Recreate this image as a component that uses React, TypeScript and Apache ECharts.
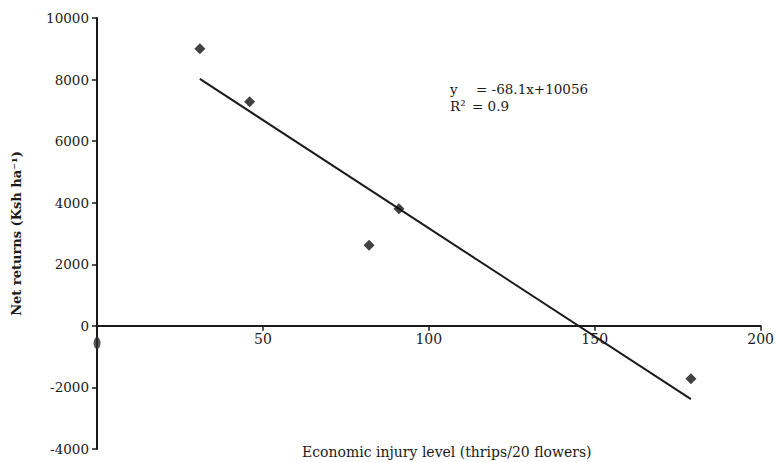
import React, { useEffect, useRef } from "react";
import * as echarts from "echarts";

const observedPoints: [number, number][] = [
  [31, 9000],
  [46, 7280],
  [82, 2620],
  [91, 3800],
  [179, -1720],
];
const axisPoint: [number, number][] = [[0, -560]];
const trendLine: [number, number][] = [
  [31, 8020],
  [179, -2380],
];
const yTicks = { min: -4000, max: 10000, interval: 2000 };
const xTicks = { min: 0, max: 200, interval: 50 };
const eqLhs = "y";
const eqRhs = "= -68.1x+10056";
const r2Lhs = "R\u00B2";
const r2Rhs = "= 0.9";
const xTitle = "Economic injury level (thrips/20 flowers)";
const yTitle = "Net returns (Ksh ha\u207B\u00B9)";

const INK = "#1a1a1a";
const FONT = "'DejaVu Serif', 'Liberation Serif', serif";

const W = 777;
const H = 462;
const GRID = { left: 97, right: 12, top: 18, bottom: 13 };

export default function App() {
  const ref = useRef<HTMLDivElement>(null);
  useEffect(() => {
    if (!ref.current) return;
    const chart = echarts.init(ref.current, undefined, { renderer: "svg" });
    const plotH = H - GRID.top - GRID.bottom;
    const zeroFromBottom = (plotH * (0 - yTicks.min)) / (yTicks.max - yTicks.min);
    const eqStyle = (text: string) => ({
      text,
      fill: INK,
      font: `13.5px ${FONT}`,
    });
    chart.setOption({
      animation: false,
      backgroundColor: "#ffffff",
      grid: { ...GRID, containLabel: false },
      xAxis: {
        type: "value",
        position: "bottom",
        offset: -zeroFromBottom,
        min: xTicks.min,
        max: xTicks.max,
        interval: xTicks.interval,
        axisLine: { onZero: false, lineStyle: { color: INK, width: 2 } },
        axisTick: { show: true, inside: false, length: 5, lineStyle: { color: INK, width: 1.5 } },
        axisLabel: {
          color: INK,
          fontFamily: FONT,
          fontSize: 14,
          margin: 6,
          formatter: (v: number) => (v === 0 ? "" : String(v)),
        },
        splitLine: { show: false },
      },
      yAxis: {
        type: "value",
        min: yTicks.min,
        max: yTicks.max,
        interval: yTicks.interval,
        axisLine: { show: true, onZero: false, lineStyle: { color: INK, width: 2 } },
        axisTick: { show: true, length: 5, lineStyle: { color: INK, width: 1.5 } },
        axisLabel: {
          color: INK,
          fontFamily: FONT,
          fontSize: 13.5,
          margin: 8,
          formatter: (v: number) => String(v),
        },
        splitLine: { show: false },
        name: yTitle,
        nameLocation: "middle",
        nameGap: 74,
        nameRotate: 90,
        nameTextStyle: { color: INK, fontFamily: FONT, fontSize: 13, fontWeight: "bold" },
      },
      series: [
        {
          type: "line",
          data: trendLine,
          symbol: "none",
          lineStyle: { color: INK, width: 2 },
          z: 2,
        },
        {
          type: "scatter",
          data: observedPoints,
          symbol: "diamond",
          symbolSize: 11,
          itemStyle: { color: "#111" },
          z: 3,
        },
        {
          type: "scatter",
          data: axisPoint,
          symbol: "circle",
          symbolSize: [7, 12],
          itemStyle: { color: "#2a2a2a" },
          z: 3,
        },
      ],
      graphic: [
        { type: "text", left: 450, top: 82, style: eqStyle(eqLhs) },
        { type: "text", left: 476, top: 82, style: eqStyle(eqRhs) },
        { type: "text", left: 450, top: 99, style: eqStyle(r2Lhs) },
        { type: "text", left: 472, top: 99, style: eqStyle(r2Rhs) },
        { type: "text", left: 302, top: 445, style: { text: xTitle, fill: INK, font: `14px ${FONT}` } },
      ],
    });
    return () => chart.dispose();
  }, []);
  return (
    <div
      ref={ref}
      style={{ position: "absolute", left: 0, top: 0, width: W, height: H }}
    />
  );
}
